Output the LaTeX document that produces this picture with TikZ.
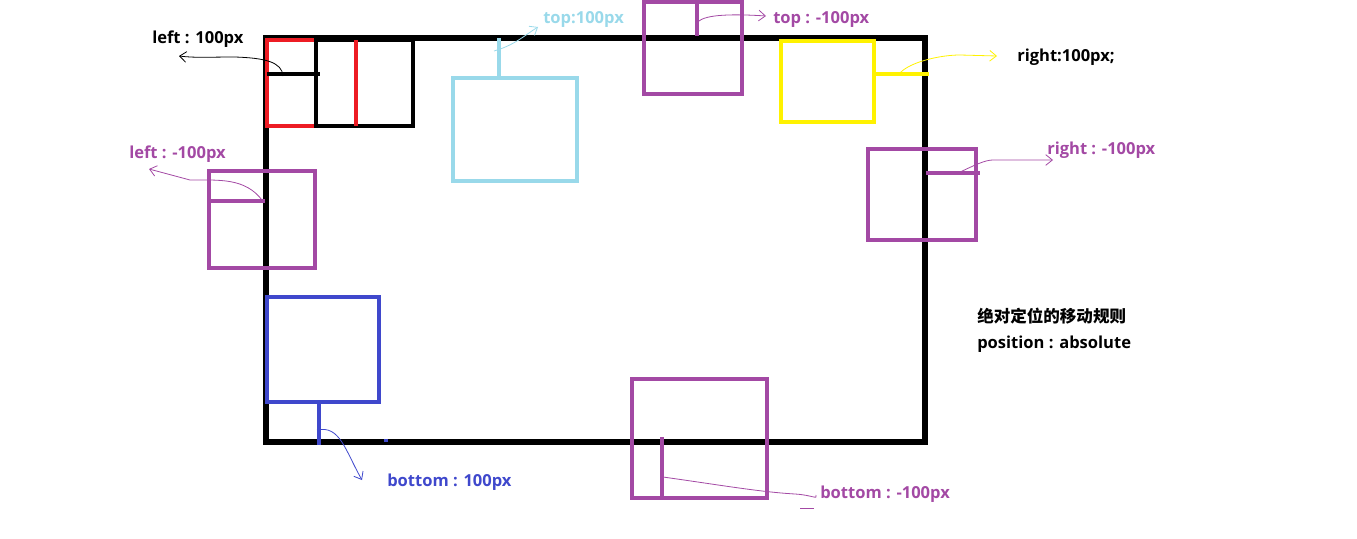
\documentclass[tikz,border=0pt]{standalone}
\usepackage{fontspec}
\setmainfont{Open Sans}
\newfontfamily\cjk{Noto Sans CJK SC}
\usetikzlibrary{arrows.meta}
\definecolor{mypurple}{HTML}{A349A4}
\definecolor{mylblue}{HTML}{99D9EA}
\definecolor{myblue}{HTML}{3F48CC}
\definecolor{myyellow}{HTML}{FFF200}
\definecolor{myred}{HTML}{ED1C24}
\begin{document}
\begin{tikzpicture}[x=0.75pt,y=-0.75pt,
  frame/.style={line width=3.8pt},
  box/.style={line width=2.5pt},
  thin/.style={line width=0.6pt},
  hint/.style={thin,-{Straight Barb[length=5pt,width=8pt]}},
  lbl/.style={font=\bfseries\fontsize{12.4}{14}\selectfont,inner sep=0pt,anchor=west}]
\useasboundingbox (0,0) rectangle (1357,539);
% main container
\draw[frame] (266,38) rectangle (925,442);
% left:100px
\draw[box,myred] (316,40) -- (267,40) -- (267,126) -- (316,126);
\draw[box,black] (316,40) rectangle (413,126);
\draw[box,myred] (356,40) -- (356,126);
\draw[box,black] (267,74) -- (320,74);
\node[lbl] (tl) at (152,39) {left : 100px};
\coordinate (tls) at (283,76);
\coordinate (tle) at (179,56);
\draw[hint] (tls) .. controls (282,62) and (265,58) .. (235,57) .. controls (210,57) and (195,58) .. (tle);
% top:100px
\draw[box,mylblue] (453,78) rectangle (577,181);
\draw[box,mylblue] (499,78) -- (499,38);
\node[lbl,mylblue] (tt) at (543,19) {top:100px};
\coordinate (tts) at (494,51);
\coordinate (tte) at (538,27);
\draw[hint,mylblue] (tts) .. controls (515,45) and (525,35) .. (tte);
% top:-100px
\draw[box,mypurple] (644,2) rectangle (742,94);
\draw[box,mypurple] (697,2) -- (697,36);
\node[lbl,mypurple] (ttn) at (773,19) {top : -100px};
\coordinate (ttns) at (698,22);
\coordinate (ttne) at (766,16);
\draw[hint,mypurple] (ttns) .. controls (705,14) and (735,14) .. (ttne);
% right:100px
\draw[box,myyellow] (781,41) rectangle (874,122);
\draw[box,myyellow] (874,74) -- (929,74);
\node[lbl,black] (tr) at (1017,57) {right:100px;};
\coordinate (trs) at (900,73);
\coordinate (tre) at (997,56);
\draw[hint,myyellow] (trs) .. controls (910,62) and (940,55) .. (960,55) -- (tre);
% left:-100px
\draw[box,mypurple] (209,171) rectangle (315,268);
\draw[box,mypurple] (207,201) -- (265,201);
\node[lbl,mypurple] (tln) at (129,154) {left : -100px};
\coordinate (tlns) at (262,200);
\coordinate (tlne) at (149,169);
\draw[hint,mypurple] (tlns) .. controls (245,178) and (220,180) .. (190,180) -- (tlne);
% right:-100px
\draw[box,mypurple] (868,149) rectangle (976,240);
\draw[box,mypurple] (926,173) -- (980,173);
\node[lbl,mypurple] (trn) at (1047,150) {right : -100px};
\coordinate (trns) at (958,173);
\coordinate (trne) at (1053,160);
\draw[hint,mypurple] (trns) .. controls (975,165) and (985,160) .. (993,160) -- (trne);
% bottom:100px
\draw[box,myblue] (267,297) rectangle (379,402);
\draw[box,myblue] (319,402) -- (319,445);
\draw[box,myblue] (386,439) -- (386,442);
\node[lbl,myblue] (tb) at (387,482) {bottom : 100px};
\coordinate (tbs) at (317,430);
\coordinate (tbe) at (362,480);
\draw[hint,myblue] (tbs) .. controls (340,425) and (345,450) .. (tbe);
% bottom:-100px
\draw[box,mypurple] (632,379) rectangle (767,498);
\draw[box,mypurple] (662,437) -- (662,498);
\node[lbl,mypurple] (tbn) at (820,494) {bottom : -100px};
\coordinate (tbns) at (663,477);
\coordinate (tbne) at (816,495);
\draw[thin,mypurple] (tbns) .. controls (720,485) and (760,492) .. (795,494) .. controls (812,495) and (818,500) .. (tbne);
\draw[thin,mypurple] (800,508) -- (814,508);
% caption
\node[lbl] (c1) at (977,316) {\cjk\bfseries 绝对定位的移动规则};
\node[lbl] (c2) at (977,344) {position : absolute};
\end{tikzpicture}
\end{document}
